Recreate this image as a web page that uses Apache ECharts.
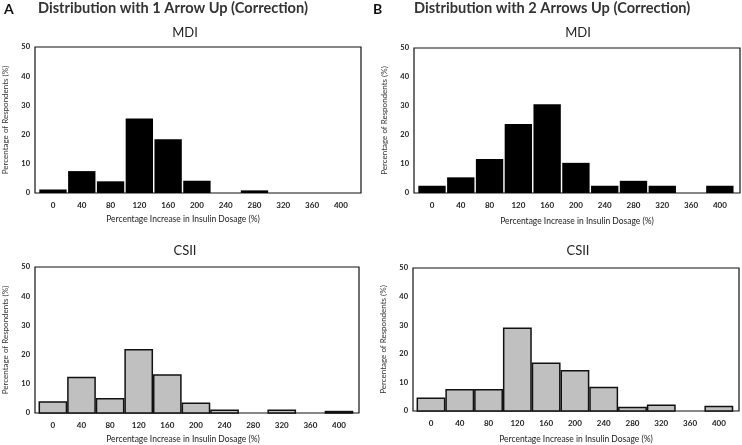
<!DOCTYPE html>
<html><head><meta charset="utf-8">
<script src="https://cdn.jsdelivr.net/npm/echarts@6/dist/echarts.min.js"></script>
<style>html,body{margin:0;padding:0;background:#fff}#c{width:742px;height:445px}</style>
</head><body><div id="c"></div>
<script>
// Bin labels (percentage increase in insulin dosage)
const bins = [0, 40, 80, 120, 160, 200, 240, 280, 320, 360, 400];
const yTicks = [0, 10, 20, 30, 40, 50];
// Percentage of respondents per bin
const mdi1 = [1.2, 7.5, 4.0, 25.5, 18.4, 4.2, 0, 0.9, 0, 0, 0];
const csii1 = [3.8, 12.2, 4.9, 21.7, 13.0, 3.3, 0.9, 0, 0.9, 0, 0.5];
const mdi2 = [2.5, 5.4, 11.7, 23.8, 30.6, 10.4, 2.5, 4.2, 2.5, 0, 2.5];
const csii2 = [4.5, 7.4, 7.4, 28.9, 16.7, 14.1, 8.2, 1.2, 2.0, 0, 1.6];

const FONT = 'Lato';
const xName = 'Percentage Increase in Insulin Dosage (%)';
const yName = 'Percentage of Respondents (%)';

const grids = [
  {left: 35, top: 47, width: 326, height: 146},
  {left: 414, top: 48, width: 326, height: 145},
  {left: 35, top: 267, width: 324, height: 146},
  {left: 413, top: 268, width: 326, height: 145}
];
const panels = [
  {data: mdi1, fill: '#000', stroke: '#fff', lw: 0},
  {data: mdi2, fill: '#000', stroke: '#fff', lw: 0},
  {data: csii1, fill: '#c0c0c0', stroke: '#111', lw: 1.5},
  {data: csii2, fill: '#c0c0c0', stroke: '#111', lw: 1.5}
];
const nameStyle = {fontFamily: FONT, fontSize: 8.5, color: '#222'};

const option = {
  animation: false,
  backgroundColor: '#fff',
  grid: grids.map(g => Object.assign({show: true, borderColor: '#111', borderWidth: 1.2, backgroundColor: 'transparent'}, g)),
  xAxis: grids.map((g, i) => ({
    type: 'value', gridIndex: i, min: -25, max: 428,
    axisLine: {show: false}, axisTick: {show: false}, splitLine: {show: false},
    axisLabel: {customValues: bins, fontFamily: FONT, fontSize: 8, fontWeight: 'bold', color: '#222', margin: 8},
    name: i % 2 === 1 ? xName : '', nameLocation: 'middle', nameGap: 24,
    nameTextStyle: nameStyle
  })),
  yAxis: grids.map((g, i) => ({
    type: 'value', gridIndex: i, min: 0, max: 50, interval: 10,
    axisLine: {show: false}, axisTick: {show: false}, splitLine: {show: false},
    axisLabel: {fontFamily: FONT, fontSize: 7.5, fontWeight: 'bold', color: '#222', margin: 5},
    name: yName, nameLocation: 'middle', nameGap: 26,
    nameTextStyle: {fontFamily: FONT, fontSize: 8, color: '#333'}
  })),
  series: panels.map((p, i) => ({
    type: 'custom', xAxisIndex: i, yAxisIndex: i,
    data: bins.map((b, k) => [b, p.data[k]]),
    renderItem: function (params, api) {
      const x = api.value(0), v = api.value(1);
      if (!v) return null;
      const a = api.coord([x - 19, v]);
      const b = api.coord([x + 19, 0]);
      return {type: 'rect', shape: {x: a[0], y: a[1], width: b[0] - a[0], height: b[1] - a[1]},
        style: {fill: p.fill, stroke: p.lw ? p.stroke : null, lineWidth: p.lw}};
    }
  })),
  graphic: [
    {type: 'text', x: 4, y: 2, style: {text: 'A', font: 'bold 14px ' + FONT, fill: '#111'}},
    {type: 'text', x: 38, y: 1, style: {text: 'Distribution with 1 Arrow Up (Correction)', font: 'bold 14.6px ' + FONT, fill: '#333'}},
    {type: 'text', x: 373, y: 2, style: {text: 'B', font: 'bold 14px ' + FONT, fill: '#111'}},
    {type: 'text', x: 414, y: 1, style: {text: 'Distribution with 2 Arrows Up (Correction)', font: 'bold 14.6px ' + FONT, fill: '#333'}},
    {type: 'text', x: 185, y: 26, style: {text: 'MDI', font: '13px ' + FONT, fill: '#222', align: 'center'}},
    {type: 'text', x: 578, y: 26, style: {text: 'MDI', font: '13px ' + FONT, fill: '#222', align: 'center'}},
    {type: 'text', x: 185, y: 244, style: {text: 'CSII', font: '13px ' + FONT, fill: '#222', align: 'center'}},
    {type: 'text', x: 578, y: 244, style: {text: 'CSII', font: '13px ' + FONT, fill: '#222', align: 'center'}},
    {type: 'text', x: 183, y: 219, style: {text: xName, font: '8.5px ' + FONT, fill: '#222', align: 'center', verticalAlign: 'middle'}},
    {type: 'text', x: 183, y: 439, style: {text: xName, font: '8.5px ' + FONT, fill: '#222', align: 'center', verticalAlign: 'middle'}}
  ]
};
echarts.init(document.getElementById('c'), null, {renderer: 'canvas'}).setOption(option);
</script></body></html>
